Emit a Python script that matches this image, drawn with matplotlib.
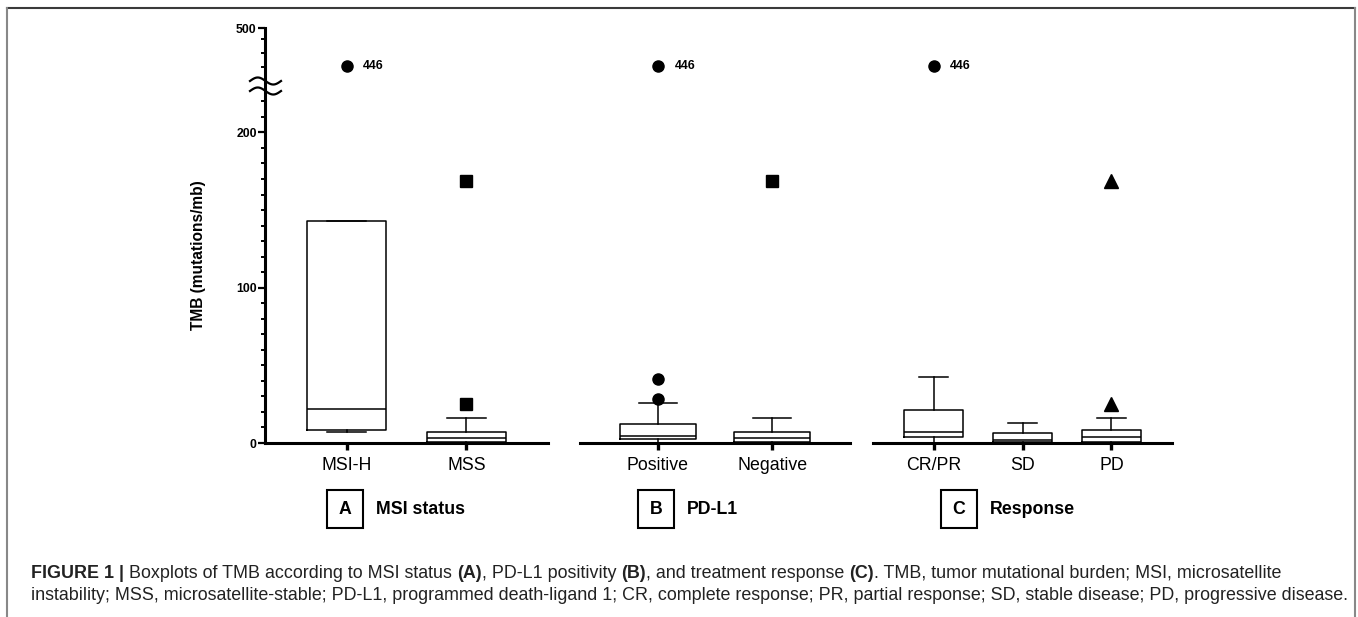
import numpy as np
import matplotlib
matplotlib.use("Agg")
import matplotlib.pyplot as plt
from matplotlib.lines import Line2D
from matplotlib.patches import Rectangle

plt.rcParams['font.family'] = ['Liberation Sans', 'DejaVu Sans']

# ---- data ----
cats_a = ['MSI-H', 'MSS']
q1_a = [8.6, 0.8]
med_a = [21.7, 3.2]
q3_a = [143, 6.9]
lo_a = [6.9, 0.3]
hi_a = [143, 16.3]
out_a = [[446], [25, 169]]
mk_a = ['o', 's']

cats_b = ['Positive', 'Negative']
q1_b = [2.4, 0.8]
med_b = [4.7, 3.2]
q3_b = [12.4, 6.9]
lo_b = [0.3, 0.3]
hi_b = [25.5, 16.3]
out_b = [[28.1, 41.4, 446], [169]]
mk_b = ['o', 's']

cats_c = ['CR/PR', 'SD', 'PD']
q1_c = [3.9, 0.5, 0.8]
med_c = [6.9, 2.1, 3.9]
q3_c = [21, 6.2, 8.6]
lo_c = [0.3, 0.3, 0.3]
hi_c = [42.4, 13.1, 16.3]
out_c = [[446], [], [25, 169]]
mk_c = ['o', None, '^']

group_letters = ['A', 'B', 'C']
group_titles = ['MSI status', 'PD-L1', 'Response']
labelled_value = 446

yticks_major = [0, 100, 200, 500]
yticks_minor = list(range(10, 100, 10)) + list(range(110, 200, 10)) + [210, 220, 445, 465, 485]

# ---- broken y scale ----
BRK_LO, BRK_HI, EPS, S_UP = 229.0, 416.0, 0.001, 0.4527
GAP_END = BRK_LO + (BRK_HI - BRK_LO) * EPS


def fwd(y):
    y = np.asarray(y, dtype=float)
    return np.where(y <= BRK_LO, y,
                    np.where(y <= BRK_HI, BRK_LO + (y - BRK_LO) * EPS,
                             GAP_END + (y - BRK_HI) * S_UP))


def inv(d):
    d = np.asarray(d, dtype=float)
    return np.where(d <= BRK_LO, d,
                    np.where(d <= GAP_END, BRK_LO + (d - BRK_LO) / EPS,
                             BRK_HI + (d - GAP_END) / S_UP))


W, H = 1358, 617
fig = plt.figure(figsize=(W / 100, H / 100), dpi=100)


def fx(x):
    return x / W


def fy(y):
    return 1 - y / H


y_top, y_bot = 28, 443
spans = [(265, 548), (580, 850), (873, 1172)]
groups = [
    (cats_a, q1_a, med_a, q3_a, lo_a, hi_a, out_a, mk_a),
    (cats_b, q1_b, med_b, q3_b, lo_b, hi_b, out_b, mk_b),
    (cats_c, q1_c, med_c, q3_c, lo_c, hi_c, out_c, mk_c),
]
margin = 0.68
msize = {'o': 8, 's': 8.5, '^': 10}

for gi, (span, grp) in enumerate(zip(spans, groups)):
    cats, q1, med, q3, lo, hi, outs, mks = grp
    ax = fig.add_axes([fx(span[0]), fy(y_bot), fx(span[1]) - fx(span[0]), (y_bot - y_top) / H])
    ax.set_yscale('function', functions=(fwd, inv))
    ax.set_ylim(0, 500)
    n = len(cats)
    pos = np.arange(n)
    ax.set_xlim(-margin, n - 1 + margin)
    stats = [dict(med=med[i], q1=q1[i], q3=q3[i], whislo=lo[i], whishi=hi[i], fliers=[])
             for i in range(n)]
    lw = 1.1
    ax.bxp(stats, positions=pos, widths=0.66, showfliers=False, patch_artist=False,
           boxprops=dict(color='black', linewidth=lw),
           whiskerprops=dict(color='black', linewidth=lw),
           capprops=dict(color='black', linewidth=lw),
           medianprops=dict(color='black', linewidth=lw),
           capwidths=0.33, manage_ticks=False)
    for i in range(n):
        if mks[i] is None or not outs[i]:
            continue
        ax.plot([pos[i]] * len(outs[i]), outs[i], linestyle='none', marker=mks[i],
                color='black', markersize=msize[mks[i]], clip_on=False)
        for v in outs[i]:
            if v == labelled_value:
                ax.annotate(str(v), (pos[i], v), xytext=(12, 0), textcoords='offset points',
                            ha='left', va='center', fontsize=8.8, fontweight='bold')
    for side in ['top', 'right']:
        ax.spines[side].set_visible(False)
    ax.spines['bottom'].set_linewidth(2.2)
    ax.spines['bottom'].set_zorder(3)
    ax.set_xticks(pos)
    ax.set_xticklabels(cats, fontsize=12.8)
    ax.tick_params(axis='x', length=5, width=2.4, pad=5)
    ax.patch.set_visible(False)
    if gi == 0:
        ax.spines['left'].set_linewidth(2.2)
        ax.set_yticks(yticks_major)
        ax.set_yticklabels([str(t) for t in yticks_major], fontsize=8.8, fontweight='bold')
        ax.set_yticks(yticks_minor, minor=True)
        ax.tick_params(axis='y', which='major', length=5, width=1.6, pad=1)
        ax.tick_params(axis='y', which='minor', length=3, width=1.4)
    else:
        ax.spines['left'].set_visible(False)
        ax.set_yticks([])
        ax.set_yticks([], minor=True)

# axis break marks
t = np.linspace(0, 1, 60)
for yc in (81, 91):
    xs = 250 + 31 * t
    ys = yc - 3.5 * np.sin(2 * np.pi * t)
    fig.add_artist(Line2D(fx(xs), fy(ys), color='black', linewidth=1.6))

fig.text(fx(199), fy(255), 'TMB (mutations/mb)', rotation=90, ha='center', va='center',
         fontsize=11.2, fontweight='bold')

# group labels
box_left = [327, 638, 941]
for bl, letter, title in zip(box_left, group_letters, group_titles):
    fig.add_artist(Rectangle((fx(bl), fy(528)), 36 / W, 38 / H, transform=fig.transFigure,
                             fill=False, edgecolor='black', linewidth=1.5))
    fig.text(fx(bl + 18), fy(509), letter, ha='center', va='center', fontsize=12.8, fontweight='bold')
    fig.text(fx(bl + 49), fy(509), title, ha='left', va='center', fontsize=12.8, fontweight='bold')

# outer frame
fig.add_artist(Line2D([fx(7), fx(1355)], [fy(8), fy(8)], color='#3a3a3a', linewidth=1.5))
fig.add_artist(Line2D([fx(7), fx(7)], [fy(8), 0], color='#888888', linewidth=1.5))
fig.add_artist(Line2D([fx(1355), fx(1355)], [fy(8), 0], color='#888888', linewidth=1.5))

# caption
renderer = fig.canvas.get_renderer()
line1 = [("FIGURE 1 | ", 'bold'), ("Boxplots of TMB according to MSI status ", 'normal'), ("(A)", 'bold'),
         (", PD-L1 positivity ", 'normal'), ("(B)", 'bold'), (", and treatment response ", 'normal'),
         ("(C)", 'bold'), (". TMB, tumor mutational burden; MSI, microsatellite", 'normal')]
line2 = [("instability; MSS, microsatellite-stable; PD-L1, programmed death-ligand 1; CR, complete "
          "response; PR, partial response; SD, stable disease; PD, progressive disease.", 'normal')]
for parts, yc in ((line1, 573), (line2, 595)):
    x = 31
    for s, wgt in parts:
        txt = fig.text(fx(x), fy(yc), s, ha='left', va='center', fontsize=12.85, fontweight=wgt,
                       color='#222222')
        bb = txt.get_window_extent(renderer=renderer)
        x += bb.width

fig.savefig('out.png', dpi=100)
